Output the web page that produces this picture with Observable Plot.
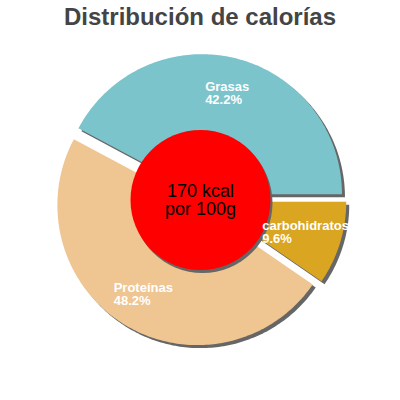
<!DOCTYPE html>
<html>
<head>
<meta charset="utf-8">
<script src="https://cdn.jsdelivr.net/npm/d3@7"></script>
<script src="https://cdn.jsdelivr.net/npm/@observablehq/plot@0.6"></script>
<style>
  html, body { margin: 0; padding: 0; background: #fff; }
  #title { width: 400px; height: 34px; line-height: 34px; text-align: center;
    font-family: "Liberation Sans", Arial, sans-serif; font-weight: bold; font-size: 24px; color: #444; }
  #chart svg { display: block; }
</style>
</head>
<body>
<div id="title">Distribución de calorías</div>
<div id="chart"></div>
<script>
// ---- data ----
const categories = ["Grasas", "Proteínas", "carbohidratos"];
const percents = [42.2, 48.2, 9.6];
const percentLabels = ["42.2%", "48.2%", "9.6%"];
const sliceColors = ["#7BC4CC", "#EFC591", "#DAA520"];
const centerLines = ["170 kcal", "por 100g"];

// ---- layout ----
const FONT = '"Liberation Sans", Arial, sans-serif';
const cx = 200, cy = 199.5, R = 140, explode = 6, shDx = 3, shDy = 3, labelR = 110;
const rad = Math.PI / 180;

const total = d3.sum(percents);
let start = 0;
const slices = categories.map((name, i) => {
  const span = percents[i] / total * 360;
  const s = {name, a0: start, a1: start + span, mid: start + span / 2, i};
  start += span;
  return s;
});

function polyPoints(s, dx, dy) {
  const ox = explode * Math.cos(s.mid * rad), oy = -explode * Math.sin(s.mid * rad);
  const pts = [{name: s.name, x: cx + ox + dx, y: cy + oy + dy}];
  const n = Math.max(2, Math.ceil(s.a1 - s.a0));
  for (let k = 0; k <= n; k++) {
    const a = (s.a0 + (s.a1 - s.a0) * k / n) * rad;
    pts.push({name: s.name, x: cx + ox + dx + R * Math.cos(a), y: cy + oy + dy - R * Math.sin(a)});
  }
  pts.push({name: s.name, x: cx + ox + dx, y: cy + oy + dy});
  return pts;
}
const slicePts = slices.flatMap(s => polyPoints(s, 0, 0));
const shadowPts = slices.flatMap(s => polyPoints(s, shDx, shDy));

const ctx = document.createElement("canvas").getContext("2d");
ctx.font = `bold 13px ${FONT}`;
const labels = slices.map(s => {
  const a = s.mid * rad;
  const w = ctx.measureText(s.name).width;
  return {
    text: s.name + "\n" + percentLabels[s.i],
    x: cx + labelR * Math.cos(a) - w / 2,
    y: cy - labelR * Math.sin(a)
  };
});

const chart = Plot.plot({
  width: 400,
  height: 366,
  margin: 0,
  x: {domain: [0, 400], range: [0, 400], axis: null},
  y: {domain: [34, 400], range: [0, 366], axis: null},
  color: {domain: categories, range: sliceColors},
  style: {fontFamily: FONT, background: "#fff"},
  marks: [
    Plot.line(shadowPts, {x: "x", y: "y", z: "name", fill: "#666", stroke: null, curve: "linear"}),
    Plot.line(slicePts, {x: "x", y: "y", z: "name", fill: "name", stroke: null, curve: "linear"}),
    Plot.dot([{x: cx + 2, y: cy + 3}], {x: "x", y: "y", r: 70, fill: "#666", stroke: null}),
    Plot.dot([{x: cx, y: cy}], {x: "x", y: "y", r: 70, fill: "#FF0000", stroke: null}),
    Plot.text([{x: cx, y: cy, t: centerLines.join("\n")}], {x: "x", y: "y", text: "t", fontSize: 18, fill: "#000", lineHeight: 1, lineAnchor: "middle"}),
    Plot.text(labels, {x: "x", y: "y", text: "text", fontSize: 13, fontWeight: "bold", fill: "#fff", textAnchor: "start", lineAnchor: "middle", lineHeight: 1})
  ]
});
document.getElementById("chart").appendChild(chart);
</script>
</body>
</html>
